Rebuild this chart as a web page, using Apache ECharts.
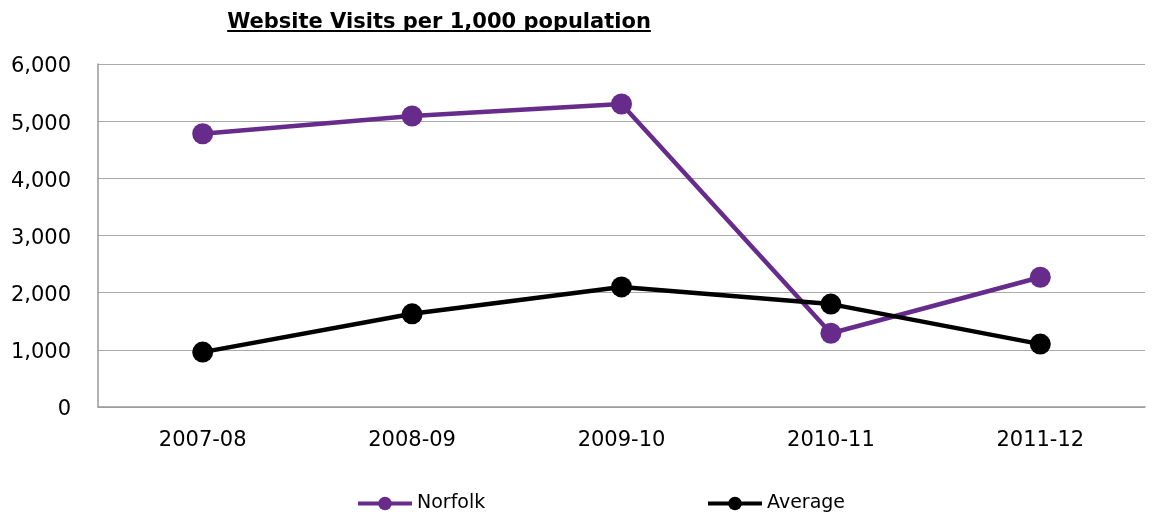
<!DOCTYPE html>
<html><head><meta charset="utf-8">
<script src="https://cdn.jsdelivr.net/npm/echarts@6/dist/echarts.min.js"></script>
<style>html,body{margin:0;padding:0;background:#fff}#c{width:1153px;height:516px}</style>
</head><body><div id="c"></div>
<script>
const categories = ['2007-08','2008-09','2009-10','2010-11','2011-12'];
const norfolk = [4780, 5090, 5300, 1290, 2270];
const average = [960, 1630, 2100, 1800, 1100];
const yTicks = [0, 1000, 2000, 3000, 4000, 5000, 6000];
const titleText = 'Website Visits per 1,000 population';

const chart = echarts.init(document.getElementById('c'));
const font = 'DejaVu Sans';
const titleSize = 21;
const titleCenter = 439;
const cv = document.createElement('canvas').getContext('2d');
cv.font = 'bold ' + titleSize + 'px "' + font + '"';
const tw = cv.measureText(titleText).width;

chart.setOption({
  animation: false,
  graphic: [{
    type: 'text', silent: true, x: titleCenter, y: 33,
    style: { text: titleText, fontFamily: font, fontSize: titleSize, fontWeight: 'bold',
      fill: '#000', textAlign: 'center', verticalAlign: 'bottom' }
  }, {
    type: 'line', silent: true,
    shape: { x1: titleCenter - tw / 2, y1: 31, x2: titleCenter + tw / 2, y2: 31 },
    style: { stroke: '#000', lineWidth: 2 }
  }],
  legend: [
    { data: ['Norfolk'], left: 351, top: 489, itemWidth: 54, itemHeight: 17, itemGap: 2,
      lineStyle: { width: 4 },
      textStyle: { fontFamily: font, fontSize: 19, color: '#000' } },
    { data: ['Average'], left: 701, top: 489, itemWidth: 54, itemHeight: 17, itemGap: 2,
      lineStyle: { width: 4 },
      textStyle: { fontFamily: font, fontSize: 19, color: '#000' } }
  ],
  grid: { left: 98, right: 8, top: 64, bottom: 109 },
  xAxis: {
    type: 'category', data: categories, boundaryGap: true,
    axisLine: { lineStyle: { color: '#999', width: 1.5 } },
    axisTick: { show: false },
    axisLabel: { fontFamily: font, fontSize: 21, color: '#000', margin: 23 }
  },
  yAxis: {
    type: 'value', min: yTicks[0], max: yTicks[yTicks.length-1], interval: 1000,
    axisLine: { show: true, lineStyle: { color: '#999', width: 1.5 } },
    axisTick: { show: false },
    splitLine: { lineStyle: { color: '#aaa', width: 1.2 } },
    axisLabel: { fontFamily: font, fontSize: 21, color: '#000', margin: 27,
      verticalAlign: 'top', lineHeight: 6,
      formatter: v => v.toLocaleString('en-US') }
  },
  series: [
    { name: 'Norfolk', type: 'line', data: norfolk, symbol: 'circle', symbolSize: 21,
      lineStyle: { color: '#672b8b', width: 4.5 }, itemStyle: { color: '#672b8b' } },
    { name: 'Average', type: 'line', data: average, symbol: 'circle', symbolSize: 21,
      lineStyle: { color: '#000', width: 4.5 }, itemStyle: { color: '#000' } }
  ]
});
</script></body></html>
